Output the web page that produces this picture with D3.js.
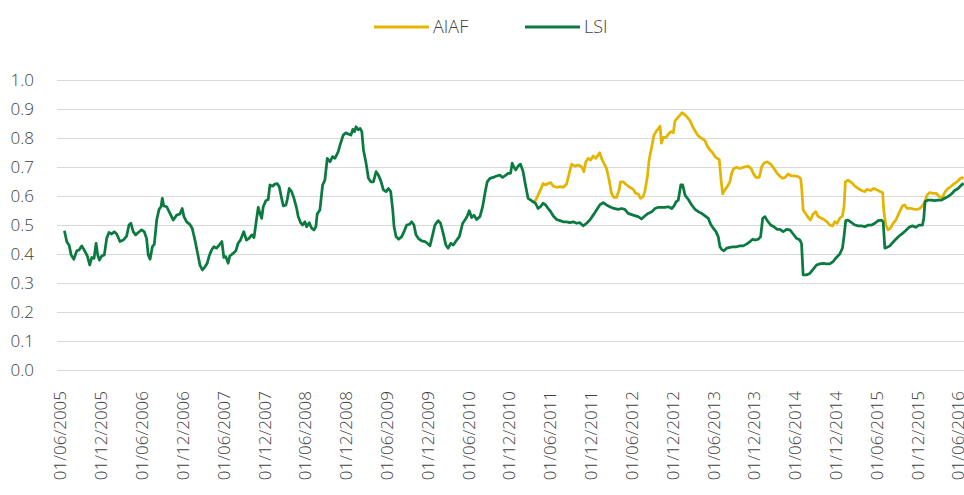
<!DOCTYPE html>
<html>
<head>
<meta charset="utf-8">
<script src="https://cdn.jsdelivr.net/npm/d3@7"></script>
<style>
  html, body { margin: 0; padding: 0; background: #fff; }
  svg { display: block; }
  text { font-family: "Open Sans", "Noto Sans", sans-serif; font-weight: 300; fill: #404040; }
</style>
</head>
<body>
<svg id="chart" width="964" height="495"></svg>
<script>
// ---- Data (time as decimal year) ----
const seriesNames = ["AIAF", "LSI"];
const seriesColors = ["#E4B500", "#0A7A40"];

const lsiTimes = [
2005.468,2005.497,2005.526,2005.550,2005.583,2005.620,2005.648,2005.681,2005.721,2005.749,
2005.779,2005.803,2005.831,2005.856,2005.876,2005.896,2005.925,2005.957,2005.986,2006.014,
2006.047,2006.079,2006.109,2006.149,2006.189,2006.231,2006.259,2006.283,2006.311,2006.341,
2006.373,2006.414,2006.446,2006.475,2006.495,2006.518,2006.546,2006.570,2006.599,2006.628,
2006.652,2006.668,2006.685,2006.722,2006.762,2006.802,2006.844,2006.884,2006.912,2006.933,
2006.966,2007.006,2007.035,2007.068,2007.101,2007.129,2007.159,2007.190,2007.218,2007.242,
2007.272,2007.300,2007.333,2007.365,2007.398,2007.422,2007.446,2007.475,2007.495,2007.536,
2007.569,2007.597,2007.626,2007.666,2007.699,2007.731,2007.764,2007.792,2007.816,2007.844,
2007.865,2007.886,2007.905,2007.938,2007.966,2007.987,2008.020,2008.048,2008.076,2008.101,
2008.130,2008.150,2008.183,2008.199,2008.223,2008.252,2008.281,2008.314,2008.333,2008.362,
2008.387,2008.415,2008.436,2008.468,2008.497,2008.525,2008.549,2008.565,2008.598,2008.631,
2008.659,2008.688,2008.721,2008.753,2008.782,2008.822,2008.851,2008.883,2008.916,2008.944,
2008.977,2009.001,2009.021,2009.041,2009.066,2009.090,2009.111,2009.131,2009.163,2009.192,
2009.221,2009.253,2009.286,2009.314,2009.343,2009.375,2009.408,2009.436,2009.465,2009.490,
2009.506,2009.530,2009.563,2009.600,2009.628,2009.661,2009.693,2009.722,2009.750,2009.775,
2009.803,2009.844,2009.885,2009.913,2009.946,2009.979,2010.007,2010.047,2010.076,2010.108,
2010.141,2010.169,2010.201,2010.233,2010.274,2010.306,2010.347,2010.375,2010.404,2010.428,
2010.457,2010.486,2010.518,2010.559,2010.592,2010.620,2010.648,2010.681,2010.721,2010.763,
2010.803,2010.836,2010.877,2010.905,2010.934,2010.954,2010.974,2010.999,2011.027,2011.056,
2011.088,2011.121,2011.149,2011.182,2011.210,2011.240,2011.271,2011.301,2011.332,2011.365,
2011.394,2011.426,2011.458,2011.499,2011.540,2011.580,2011.621,2011.662,2011.702,2011.744,
2011.784,2011.824,2011.866,2011.906,2011.947,2011.988,2012.028,2012.069,2012.110,2012.151,
2012.200,2012.252,2012.294,2012.334,2012.374,2012.436,2012.497,2012.538,2012.578,2012.619,
2012.663,2012.704,2012.744,2012.786,2012.826,2012.866,2012.908,2012.936,2012.960,2012.988,
2013.018,2013.042,2013.070,2013.111,2013.152,2013.193,2013.233,2013.274,2013.327,2013.355,
2013.384,2013.416,2013.449,2013.477,2013.498,2013.519,2013.547,2013.580,2013.620,2013.661,
2013.702,2013.743,2013.783,2013.824,2013.867,2013.900,2013.928,2013.968,2013.997,2014.022,
2014.050,2014.078,2014.120,2014.160,2014.200,2014.233,2014.274,2014.315,2014.356,2014.396,
2014.437,2014.478,2014.498,2014.518,2014.560,2014.600,2014.640,2014.682,2014.722,2014.763,
2014.804,2014.844,2014.885,2014.926,2014.967,2015.000,2015.019,2015.040,2015.068,2015.113,
2015.153,2015.193,2015.235,2015.275,2015.316,2015.357,2015.398,2015.438,2015.479,2015.499,
2015.520,2015.548,2015.581,2015.614,2015.654,2015.695,2015.736,2015.776,2015.817,2015.858,
2015.899,2015.939,2015.981,2015.997,2016.012,2016.049,2016.090,2016.131,2016.171,2016.213,
2016.253,2016.294,2016.335,2016.375,2016.416,2016.457,2016.485
];
const lsiValues = [
0.480,0.442,0.430,0.397,0.382,0.411,0.414,0.428,0.408,0.393,
0.362,0.388,0.385,0.437,0.397,0.379,0.393,0.397,0.454,0.474,
0.469,0.477,0.469,0.443,0.448,0.462,0.500,0.506,0.477,0.466,
0.474,0.483,0.477,0.454,0.397,0.382,0.425,0.434,0.517,0.554,
0.563,0.592,0.566,0.563,0.540,0.517,0.534,0.538,0.557,0.529,
0.511,0.502,0.488,0.448,0.402,0.362,0.345,0.355,0.368,0.393,
0.414,0.425,0.420,0.431,0.443,0.388,0.391,0.368,0.393,0.402,
0.411,0.437,0.448,0.477,0.448,0.454,0.466,0.457,0.506,0.561,
0.540,0.523,0.563,0.584,0.588,0.638,0.634,0.641,0.643,0.632,
0.592,0.566,0.569,0.588,0.626,0.615,0.592,0.557,0.529,0.508,
0.500,0.511,0.494,0.508,0.489,0.483,0.494,0.538,0.552,0.638,
0.655,0.730,0.718,0.736,0.730,0.753,0.782,0.810,0.818,0.814,
0.810,0.830,0.822,0.839,0.828,0.833,0.822,0.759,0.713,0.661,
0.649,0.649,0.684,0.672,0.653,0.621,0.615,0.626,0.615,0.552,
0.494,0.460,0.451,0.460,0.477,0.500,0.502,0.511,0.500,0.466,
0.454,0.445,0.443,0.437,0.428,0.466,0.500,0.515,0.506,0.471,
0.431,0.420,0.437,0.431,0.448,0.460,0.506,0.517,0.531,0.549,
0.526,0.534,0.519,0.529,0.563,0.609,0.649,0.661,0.664,0.669,
0.672,0.664,0.672,0.678,0.678,0.713,0.701,0.690,0.703,0.710,
0.684,0.632,0.592,0.586,0.580,0.575,0.557,0.563,0.575,0.569,
0.557,0.546,0.531,0.519,0.515,0.511,0.511,0.508,0.511,0.506,
0.508,0.497,0.506,0.517,0.534,0.552,0.569,0.577,0.569,0.563,
0.557,0.554,0.557,0.554,0.540,0.534,0.529,0.521,0.531,0.540,
0.546,0.557,0.561,0.561,0.561,0.563,0.557,0.566,0.580,0.586,
0.638,0.638,0.603,0.588,0.569,0.554,0.546,0.540,0.529,0.523,
0.503,0.489,0.477,0.460,0.425,0.416,0.411,0.420,0.423,0.425,
0.425,0.428,0.428,0.434,0.443,0.451,0.448,0.451,0.460,0.523,
0.529,0.515,0.500,0.494,0.485,0.485,0.477,0.485,0.483,0.469,
0.454,0.448,0.437,0.328,0.328,0.333,0.347,0.362,0.366,0.368,
0.366,0.366,0.374,0.388,0.400,0.420,0.460,0.515,0.517,0.508,
0.500,0.497,0.497,0.494,0.500,0.500,0.506,0.515,0.517,0.511,
0.420,0.423,0.428,0.439,0.451,0.462,0.471,0.481,0.492,0.497,
0.492,0.500,0.500,0.523,0.580,0.586,0.586,0.584,0.586,0.586,
0.592,0.598,0.607,0.619,0.626,0.638,0.643
];

const aiafTimes = [
2011.210,2011.243,2011.271,2011.301,2011.332,2011.365,2011.394,2011.426,2011.458,2011.499,
2011.540,2011.580,2011.621,2011.653,2011.682,2011.723,2011.763,2011.805,2011.833,2011.857,
2011.886,2011.915,2011.947,2011.980,2012.008,2012.028,2012.049,2012.077,2012.110,2012.142,
2012.171,2012.200,2012.233,2012.264,2012.281,2012.313,2012.355,2012.395,2012.436,2012.468,
2012.497,2012.526,2012.558,2012.578,2012.607,2012.631,2012.663,2012.691,2012.716,2012.744,
2012.765,2012.781,2012.805,2012.838,2012.866,2012.896,2012.927,2012.948,2012.976,2013.001,
2013.030,2013.058,2013.091,2013.131,2013.164,2013.193,2013.233,2013.274,2013.315,2013.343,
2013.376,2013.409,2013.437,2013.465,2013.490,2013.510,2013.531,2013.559,2013.587,2013.620,
2013.641,2013.669,2013.702,2013.743,2013.783,2013.816,2013.844,2013.879,2013.907,2013.940,
2013.980,2014.010,2014.038,2014.078,2014.120,2014.160,2014.200,2014.233,2014.267,2014.295,
2014.335,2014.376,2014.417,2014.457,2014.487,2014.502,2014.518,2014.551,2014.580,2014.609,
2014.640,2014.674,2014.702,2014.743,2014.784,2014.812,2014.844,2014.878,2014.906,2014.934,
2014.967,2015.000,2015.019,2015.036,2015.068,2015.113,2015.153,2015.193,2015.235,2015.275,
2015.303,2015.345,2015.385,2015.426,2015.459,2015.492,2015.508,2015.532,2015.560,2015.589,
2015.621,2015.654,2015.682,2015.712,2015.736,2015.764,2015.792,2015.834,2015.874,2015.915,
2015.948,2015.981,2016.009,2016.037,2016.070,2016.110,2016.152,2016.184,2016.225,2016.253,
2016.281,2016.323,2016.363,2016.403,2016.445,2016.485
];
const aiafValues = [
0.580,0.586,0.603,0.621,0.643,0.638,0.643,0.646,0.634,0.630,
0.632,0.630,0.641,0.678,0.710,0.703,0.707,0.701,0.684,0.718,
0.730,0.724,0.738,0.730,0.741,0.749,0.730,0.713,0.695,0.655,
0.609,0.595,0.595,0.621,0.649,0.649,0.638,0.630,0.623,0.609,
0.607,0.592,0.598,0.615,0.661,0.724,0.770,0.810,0.822,0.833,
0.841,0.782,0.802,0.802,0.813,0.822,0.818,0.860,0.868,0.876,
0.887,0.883,0.874,0.860,0.839,0.825,0.807,0.799,0.791,0.772,
0.759,0.749,0.736,0.730,0.726,0.661,0.607,0.621,0.632,0.649,
0.678,0.695,0.699,0.695,0.699,0.701,0.703,0.695,0.678,0.664,
0.664,0.701,0.713,0.718,0.710,0.695,0.678,0.668,0.661,0.664,
0.676,0.669,0.669,0.667,0.661,0.621,0.552,0.538,0.526,0.517,
0.538,0.546,0.529,0.523,0.517,0.511,0.500,0.497,0.511,0.506,
0.523,0.531,0.563,0.649,0.655,0.646,0.634,0.626,0.619,0.615,
0.623,0.619,0.626,0.621,0.615,0.612,0.546,0.500,0.483,0.489,
0.506,0.517,0.534,0.552,0.566,0.569,0.557,0.557,0.555,0.554,
0.557,0.566,0.580,0.603,0.612,0.609,0.609,0.598,0.595,0.612,
0.623,0.632,0.641,0.649,0.661,0.664
];

const xTickLabels = [
"01/06/2005","01/12/2005","01/06/2006","01/12/2006","01/06/2007","01/12/2007",
"01/06/2008","01/12/2008","01/06/2009","01/12/2009","01/06/2010","01/12/2010",
"01/06/2011","01/12/2011","01/06/2012","01/12/2012","01/06/2013","01/12/2013",
"01/06/2014","01/12/2014","01/06/2015","01/12/2015","01/06/2016"
];
const yTickValues = [0, 0.1, 0.2, 0.3, 0.4, 0.5, 0.6, 0.7, 0.8, 0.9, 1.0];

// ---- Helpers ----
function decimalYearToDate(t) {
  const y = Math.floor(t);
  const a = Date.UTC(y, 0, 1), b = Date.UTC(y + 1, 0, 1);
  return new Date(a + (t - y) * (b - a));
}
const parseTick = d3.utcParse("%d/%m/%Y");
const fmtTick = d3.utcFormat("%d/%m/%Y");
const tickDates = xTickLabels.map(parseTick);

const lsi = lsiTimes.map((t, i) => ({ date: decimalYearToDate(t), value: lsiValues[i] }));
const aiaf = aiafTimes.map((t, i) => ({ date: decimalYearToDate(t), value: aiafValues[i] }));

// ---- Layout ----
const svg = d3.select("#chart");
const plotLeft = 57, plotRight = 964;

const x = d3.scaleUtc()
  .domain([tickDates[0], tickDates[tickDates.length - 1]])
  .range([60, 958]);
const y = d3.scaleLinear().domain([0, 1]).range([370, 80]);

// Y gridlines + labels
const yAxis = d3.axisLeft(y)
  .tickValues(yTickValues)
  .tickSize(-(plotRight - plotLeft))
  .tickPadding(23)
  .tickFormat(d3.format(".1f"));
const gy = svg.append("g").attr("transform", `translate(${plotLeft},0)`).call(yAxis);
gy.select(".domain").remove();
gy.selectAll(".tick line").attr("stroke", "#d9d9d9").attr("stroke-width", 1);
gy.selectAll(".tick text").attr("font-size", 17).attr("fill", "#404040")
  .style("font-family", "'Open Sans', sans-serif").style("font-weight", 300);

// X labels
const xAxis = d3.axisBottom(x).tickValues(tickDates).tickSize(0).tickFormat(fmtTick);
const gx = svg.append("g").attr("transform", `translate(0,370)`).call(xAxis);
gx.select(".domain").remove();
gx.selectAll(".tick text")
  .attr("transform", "rotate(-90)")
  .attr("text-anchor", "end")
  .attr("x", -21)
  .attr("y", 0)
  .attr("dy", "0.35em")
  .attr("font-size", 17)
  .attr("fill", "#404040")
  .style("font-family", "'Open Sans', sans-serif").style("font-weight", 300);

// Lines
const line = d3.line().x(d => x(d.date)).y(d => y(d.value)).curve(d3.curveLinear);
svg.append("path").datum(aiaf)
  .attr("fill", "none").attr("stroke", seriesColors[0]).attr("stroke-width", 2.75)
  .attr("stroke-linejoin", "round").attr("d", line);
svg.append("path").datum(lsi)
  .attr("fill", "none").attr("stroke", seriesColors[1]).attr("stroke-width", 2.75)
  .attr("stroke-linejoin", "round").attr("d", line);

// Legend
const legendItems = [
  { name: seriesNames[0], color: seriesColors[0], x0: 374 },
  { name: seriesNames[1], color: seriesColors[1], x0: 525 }
];
const lg = svg.append("g");
legendItems.forEach(it => {
  lg.append("line").attr("x1", it.x0).attr("x2", it.x0 + 55)
    .attr("y1", 27).attr("y2", 27)
    .attr("stroke", it.color).attr("stroke-width", 3);
  lg.append("text").attr("x", it.x0 + 59).attr("y", 27).attr("dy", "0.35em")
    .attr("font-size", 18).attr("fill", "#404040").text(it.name);
});
</script>
</body>
</html>
